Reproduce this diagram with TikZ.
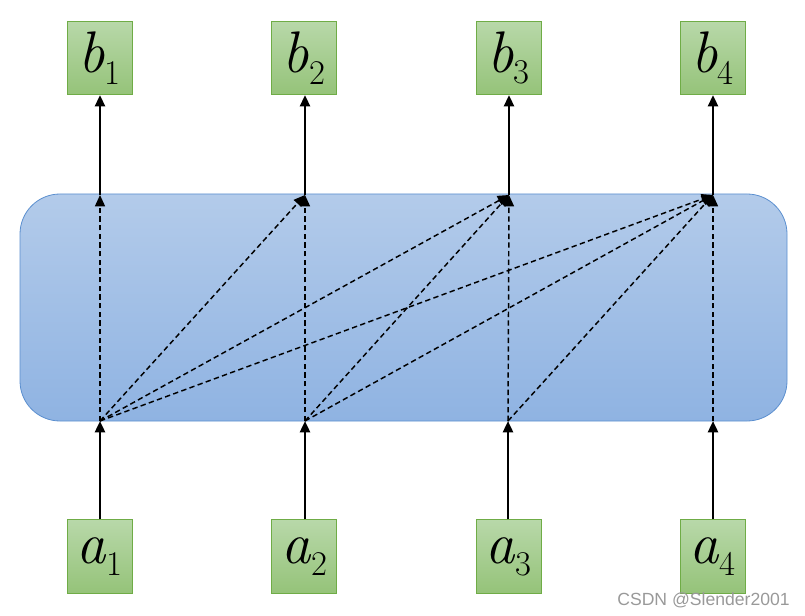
\documentclass[tikz,border=0pt]{standalone}
\usepackage{fontspec}
\newfontfamily\wmfont{Liberation Sans}
\usetikzlibrary{arrows.meta}
\definecolor{bandtop}{HTML}{B3CBEA}
\definecolor{bandbot}{HTML}{8FB3E2}
\definecolor{bandedge}{HTML}{5B8FCF}
\definecolor{gtop}{HTML}{B8D8A9}
\definecolor{gbot}{HTML}{95C379}
\definecolor{gedge}{HTML}{6FAC46}
\newcommand\boxlbl[2]{\textit{#1}\raisebox{-0.2em}{\fontsize{26}{26}\selectfont #2}}
\begin{document}
\begin{tikzpicture}[x=0.75pt,y=-0.75pt,
  gbox/.style={draw=gedge,line width=0.6pt,top color=gtop,bottom color=gbot,
    minimum width=48.75pt,minimum height=55pt,inner sep=0pt,
    font=\fontsize{44}{44}\selectfont},
  solidarr/.style={line width=1.8pt,-{Triangle[length=8.5pt,width=7.5pt]}},
  dasharr/.style={line width=1.1pt,dash pattern=on 4pt off 2.5pt,-{Triangle[length=8.5pt,width=7.5pt]}}]
\useasboundingbox (0,0) rectangle (805,616);
\node[draw=bandedge,line width=0.6pt,top color=bandtop,bottom color=bandbot,
  rounded corners=30pt,minimum width=575.25pt,minimum height=170.25pt,inner sep=0pt]
  (band) at (403.5,307.5) {};
% top boxes
\node[gbox] (b1) at (99.5,58) {\boxlbl{b}{1}};
\node[gbox] (b2) at (304,58) {\boxlbl{b}{2}};
\node[gbox] (b3) at (508.5,58) {\boxlbl{b}{3}};
\node[gbox] (b4) at (712.5,58) {\boxlbl{b}{4}};
% bottom boxes
\node[gbox] (a1) at (99.5,556.5) {\boxlbl{a}{1}};
\node[gbox] (a2) at (304,556.5) {\boxlbl{a}{2}};
\node[gbox] (a3) at (508.5,556.5) {\boxlbl{a}{3}};
\node[gbox] (a4) at (712.5,556.5) {\boxlbl{a}{4}};
% coordinates on band
\coordinate (l1) at (100,421);
\coordinate (l2) at (305,421);
\coordinate (l3) at (508,421);
\coordinate (l4) at (713,421);
\coordinate (u1) at (100,195);
\coordinate (u2) at (305,195);
\coordinate (u3) at (509,195);
\coordinate (u4) at (713,195);
% solid input arrows
\draw[solidarr] (a1.north -| l1) -- (l1);
\draw[solidarr] (a2.north -| l2) -- (l2);
\draw[solidarr] (a3.north -| l3) -- (l3);
\draw[solidarr] (a4.north -| l4) -- (l4);
% solid output arrows
\draw[solidarr] (u1) -- (b1.south -| u1);
\draw[solidarr] (u2) -- (b2.south -| u2);
\draw[solidarr] (u3) -- (b3.south -| u3);
\draw[solidarr] (u4) -- (b4.south -| u4);
% dashed attention
\draw[dasharr] (l1) -- (u1);
\draw[dasharr] (l1) -- (u2);
\draw[dasharr] (l1) -- (u3);
\draw[dasharr] (l1) -- (u4);
\draw[dasharr] (l2) -- (u2);
\draw[dasharr] (l2) -- (u3);
\draw[dasharr] (l2) -- (u4);
\draw[dasharr] (l3) -- (u3);
\draw[dasharr] (l3) -- (u4);
\draw[dasharr] (l4) -- (u4);
% watermark
\node[anchor=east,text=black!40,font=\wmfont\fontsize{13.2}{14}\selectfont,inner sep=0pt]
  (wm) at (790,600) {CSDN @Slender2001};
\end{tikzpicture}
\end{document}
